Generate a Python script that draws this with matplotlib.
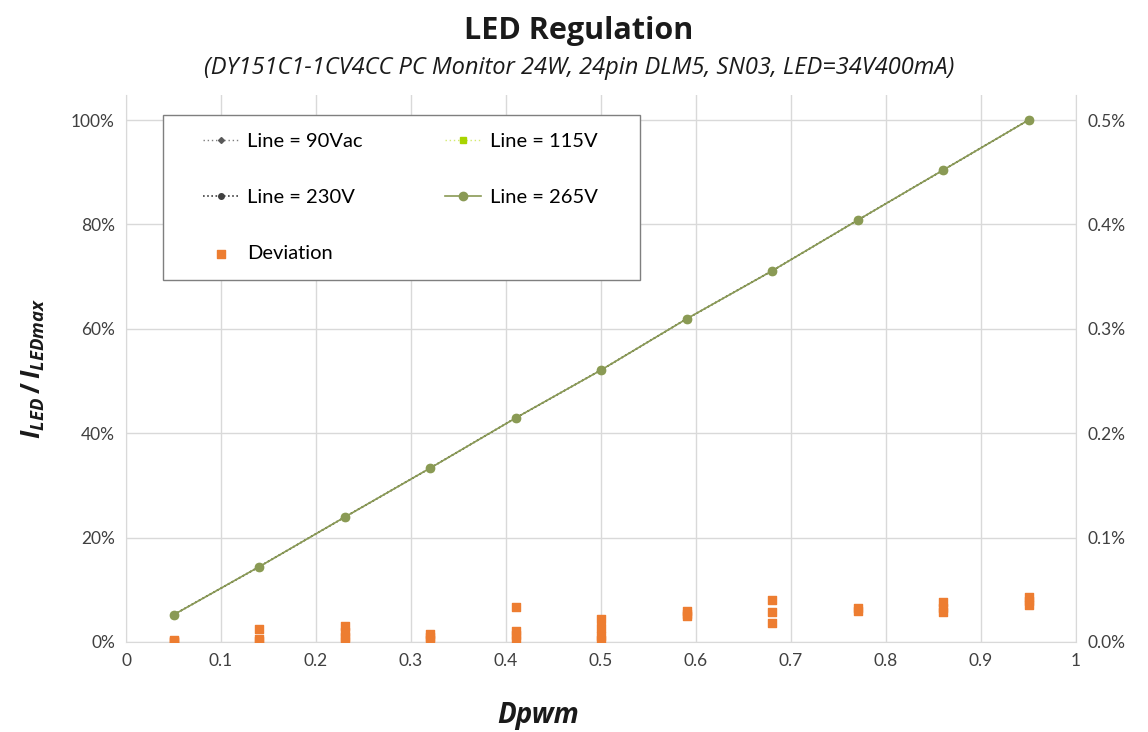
import matplotlib
matplotlib.use("Agg")
import matplotlib.pyplot as plt
from matplotlib.ticker import FuncFormatter
from matplotlib.patches import Rectangle

plt.rcParams['font.family'] = ['Lato', 'DejaVu Sans']
plt.rcParams['mathtext.fontset'] = 'custom'
plt.rcParams['mathtext.it'] = 'Open Sans:italic:bold'
plt.rcParams['mathtext.rm'] = 'Open Sans:bold'

dpwm = [0.05, 0.14, 0.23, 0.32, 0.41, 0.50, 0.59, 0.68, 0.77, 0.86, 0.95]
i_90 = [5.2, 14.4, 23.9, 33.3, 42.9, 52.1, 61.9, 71.1, 80.8, 90.4, 100.0]
i_115 = [5.2, 14.4, 23.9, 33.3, 42.9, 52.1, 61.9, 71.1, 80.8, 90.4, 100.0]
i_230 = [5.2, 14.4, 23.9, 33.3, 42.9, 52.1, 61.9, 71.1, 80.8, 90.4, 100.0]
i_265 = [5.2, 14.4, 23.9, 33.3, 42.9, 52.1, 61.9, 71.1, 80.8, 90.4, 100.0]

# deviation (%), several points per duty value
dev_x = [0.05, 0.05, 0.05,
         0.14, 0.14, 0.14,
         0.23, 0.23, 0.23, 0.23,
         0.32, 0.32, 0.32,
         0.41, 0.41, 0.41, 0.41,
         0.50, 0.50, 0.50, 0.50,
         0.59, 0.59, 0.59,
         0.68, 0.68, 0.68,
         0.77, 0.77,
         0.86, 0.86, 0.86,
         0.95, 0.95, 0.95]
dev_y = [0.002, 0.001, 0.000,
         0.012, 0.003, 0.001,
         0.015, 0.010, 0.005, 0.001,
         0.008, 0.005, 0.002,
         0.034, 0.011, 0.007, 0.002,
         0.022, 0.013, 0.006, 0.002,
         0.030, 0.027, 0.025,
         0.040, 0.029, 0.018,
         0.033, 0.030,
         0.038, 0.033, 0.029,
         0.043, 0.039, 0.035]

x_ticks = [0, 0.1, 0.2, 0.3, 0.4, 0.5, 0.6, 0.7, 0.8, 0.9, 1]
y_ticks = [0, 20, 40, 60, 80, 100]
y2_ticks = [0.0, 0.1, 0.2, 0.3, 0.4, 0.5]

W, H = 1148, 732
fig = plt.figure(figsize=(W / 100, H / 100), dpi=100)
ax = fig.add_axes([126 / W, 1 - 642 / H, 950 / W, 547 / H])
ax2 = ax.twinx()

ymax = 104.8
ax.set_xlim(0, 1)
ax.set_ylim(0, ymax)
ax2.set_ylim(0, ymax * 0.005)

grid_c = '#d9d9d9'
ax.set_xticks(x_ticks)
ax.set_yticks(y_ticks)
ax2.set_yticks(y2_ticks)
ax.grid(True, color=grid_c, linewidth=1.0)
ax.set_axisbelow(True)

ax.xaxis.set_major_formatter(FuncFormatter(lambda v, p: f"{v:g}"))
ax.yaxis.set_major_formatter(FuncFormatter(lambda v, p: f"{v:.0f}%"))
ax2.yaxis.set_major_formatter(FuncFormatter(lambda v, p: f"{v:.1f}%"))

for a in (ax, ax2):
    a.tick_params(length=0, labelsize=12.5, colors='#404040', pad=8)
    for s in a.spines.values():
        s.set_visible(False)
ax.spines['left'].set_visible(True)
ax.spines['left'].set_color(grid_c)
ax.spines['bottom'].set_visible(True)
ax.spines['bottom'].set_color(grid_c)
ax2.spines['right'].set_visible(True)
ax2.spines['right'].set_color(grid_c)

ax.plot(dpwm, i_90, linestyle=(0, (1, 2)), color='#7f7f7f', linewidth=1,
        marker='D', markersize=3, markerfacecolor='#595959', markeredgecolor='#595959',
        label='Line = 90Vac', zorder=3)
ax.plot(dpwm, i_115, linestyle=(0, (1, 2)), color='#d4ea70', linewidth=1,
        marker='s', markersize=5, markerfacecolor='#a8d400', markeredgecolor='#a8d400',
        label='Line = 115V', zorder=3)
ax.plot(dpwm, i_230, linestyle=(0, (1, 1.5)), color='#404040', linewidth=1.2,
        marker='o', markersize=4, markerfacecolor='#404040', markeredgecolor='#404040',
        label='Line = 230V', zorder=4)
ax.plot(dpwm, i_265, linestyle='-', color='#8a9a55', linewidth=1.2,
        marker='o', markersize=6, markerfacecolor='#8a9a55', markeredgecolor='#8a9a55',
        label='Line = 265V', zorder=5)

sc = ax2.scatter(dev_x, dev_y, marker='s', s=30, color='#ed7d31', label='Deviation', zorder=6)

# legend frame
ax2.add_patch(Rectangle((163 / W, 1 - 280 / H), 477 / W, 165 / H,
                        transform=fig.transFigure, facecolor='white',
                        edgecolor='#7f7f7f', linewidth=1.0, zorder=4.5, clip_on=False))

h1, l1 = ax.get_legend_handles_labels()
handles = [h1[0], h1[2], sc, h1[1], h1[3]]
labels = [l1[0], l1[2], 'Deviation', l1[1], l1[3]]
leg = ax2.legend(handles, labels, ncol=2, loc='upper left',
                 bbox_to_anchor=(203 / W, 1 - 133 / H), bbox_transform=fig.transFigure,
                 fontsize=14.5, frameon=False, borderpad=0, borderaxespad=0,
                 labelspacing=1.94, columnspacing=4.1, handlelength=1.75,
                 handletextpad=0.45)
leg.set_zorder(5)

fig.text(579 / W, 1 - 31 / H, 'LED Regulation', ha='center', va='center',
         fontsize=22, fontweight='bold', color='#1a1a1a', family=['Open Sans', 'DejaVu Sans'])
fig.text(579 / W, 1 - 68 / H, '(DY151C1-1CV4CC PC Monitor 24W, 24pin DLM5, SN03, LED=34V400mA)',
         ha='center', va='center', fontsize=17, fontstyle='italic', color='#1a1a1a',
         family=['Open Sans', 'DejaVu Sans'])
fig.text(538 / W, 1 - 716 / H, 'Dpwm', ha='center', va='center', fontsize=20,
         fontweight='bold', fontstyle='italic', color='#1a1a1a',
         family=['Open Sans', 'DejaVu Sans'])
fig.text(33 / W, 1 - 368 / H, r'$I_{LED}\,/\,I_{LEDmax}$', ha='center', va='center',
         rotation=90, fontsize=19, color='#1a1a1a')

fig.savefig('out.png', dpi=100, facecolor='white')
